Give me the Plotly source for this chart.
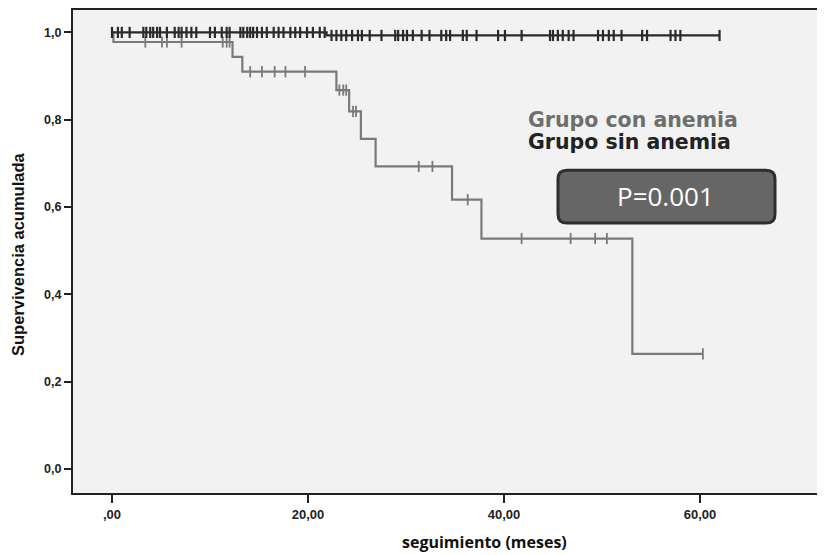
import numpy as np
import plotly.graph_objects as go

# ---------------- data ----------------
con_times = [0.0, 0.15, 12.3, 13.3, 22.9, 24.2, 25.4, 26.9, 34.7, 37.7, 53.1, 60.3]
con_surv = [1.0, 0.978, 0.944, 0.910, 0.868, 0.819, 0.756, 0.693, 0.617, 0.528, 0.264, 0.264]
con_censored = [3.4, 5.1, 5.6, 7.1, 11.3, 11.7, 12.0, 14.1, 15.3, 16.6, 17.7, 19.7,
                 23.2, 23.6, 23.9, 24.6, 24.9, 31.3, 32.7, 36.3, 41.8, 46.8, 49.3, 50.5, 60.3]

sin_times = [0.0, 21.9, 62.0]
sin_surv = [1.0, 0.993, 0.993]
sin_censored = [0.0, 0.6, 1.0, 1.8, 3.2, 3.5, 3.9, 4.2, 4.6, 4.9, 5.6, 6.4, 6.8, 7.1, 7.6,
                8.1, 8.6, 10.0, 10.5, 11.2, 11.7, 12.0, 13.1, 13.4, 13.8, 14.1, 14.4, 14.8,
                15.3, 15.8, 16.5, 17.0, 17.5, 18.2, 18.7, 19.2, 19.9, 20.5, 21.2, 21.7,
                22.4, 22.9, 23.4, 23.9, 24.5, 25.1, 25.5, 26.3, 27.5, 28.9, 29.2, 29.7,
                30.1, 30.7, 31.6, 32.4, 33.6, 34.1, 34.5, 35.8, 36.2, 37.2, 39.4, 40.1,
                41.8, 44.7, 45.0, 45.5, 46.0, 46.6, 47.1, 49.6, 50.1, 50.7, 51.2, 52.0,
                54.1, 54.6, 57.0, 57.5, 58.0, 62.0]

x_tickvals = [0, 20, 40, 60]
x_ticktext = [",00", "20,00", "40,00", "60,00"]
y_tickvals = [0.0, 0.2, 0.4, 0.6, 0.8, 1.0]
y_ticktext = ["0,0", "0,2", "0,4", "0,6", "0,8", "1,0"]

group_labels = ["Grupo con anemia", "Grupo sin anemia"]
p_text = "P=0.001"
x_title = "seguimiento (meses)"
y_title = "Supervivencia acumulada"


def step_value(times, surv, t):
    idx = np.searchsorted(np.array(times), t, side="right") - 1
    idx = np.clip(idx, 0, len(surv) - 1)
    return np.array(surv)[idx]


# ---------------- layout geometry (page pixels; page has an 8px body margin) ----------------
OFF = 8
W, H = 825 - OFF, 555 - OFF
ML, MR, MT, MB = 73 - OFF, 0, 0, 555 - 493
XR = [-3.98, 72.76]
YR = [-24 / 438.5, 1 + (30.5 - OFF) / 438.5]
PW, PH = W - ML - MR, H - MT - MB


def px_to_x(p):
    return XR[0] + (p - OFF - ML) / PW * (XR[1] - XR[0])


def px_to_y(p):
    return YR[1] - (p - OFF - MT) / PH * (YR[1] - YR[0])


def px_to_paper_x(p):
    return (p - OFF - ML) / PW


def px_to_paper_y(p):
    return (MT + PH - (p - OFF)) / PH


con_col = "#7a7a7a"
sin_col = "#2a2a2a"

fig = go.Figure()

fig.add_trace(go.Scatter(x=con_times, y=con_surv, mode="lines", line=dict(color=con_col, width=2.2, shape="hv"),
                         hoverinfo="skip", showlegend=False))
fig.add_trace(go.Scatter(x=con_censored, y=step_value(con_times, con_surv, con_censored), mode="markers",
                         marker=dict(symbol="line-ns-open", size=8, color=con_col,
                                     line=dict(color=con_col, width=1.8)),
                         showlegend=False))
fig.add_trace(go.Scatter(x=sin_times, y=sin_surv, mode="lines", line=dict(color=sin_col, width=2.2, shape="hv"),
                         hoverinfo="skip", showlegend=False))
fig.add_trace(go.Scatter(x=sin_censored, y=step_value(sin_times, sin_surv, sin_censored), mode="markers",
                         marker=dict(symbol="line-ns-open", size=8, color=sin_col,
                                     line=dict(color=sin_col, width=2.2)),
                         showlegend=False))

# rounded P-value box
bx0, bx1, by0, by1, r = 558, 775, 169, 222, 9
X0, X1 = px_to_x(bx0), px_to_x(bx1)
Y0, Y1 = px_to_y(by0), px_to_y(by1)
rx = r / PW * (XR[1] - XR[0])
ry = r / PH * (YR[1] - YR[0])
path = (f"M {X0+rx},{Y0} L {X1-rx},{Y0} Q {X1},{Y0} {X1},{Y0-ry} "
        f"L {X1},{Y1+ry} Q {X1},{Y1} {X1-rx},{Y1} "
        f"L {X0+rx},{Y1} Q {X0},{Y1} {X0},{Y1+ry} "
        f"L {X0},{Y0-ry} Q {X0},{Y0} {X0+rx},{Y0} Z")
fig.add_shape(type="path", path=path, xref="x", yref="y", fillcolor="#666666",
              line=dict(color="#2e2e2e", width=3), layer="above")

fig.add_annotation(x=px_to_x(665), y=px_to_y(195), xref="x", yref="y", text=p_text, showarrow=False,
                   xanchor="center", yanchor="middle",
                   font=dict(family="Open Sans", size=26, color="white"))

fig.add_annotation(x=px_to_x(526), y=px_to_y(118), xref="x", yref="y", text=group_labels[0], showarrow=False,
                   xanchor="left", yanchor="middle",
                   font=dict(family="DejaVu Sans", size=20.5, color="#6e6e6e", weight="bold"))
fig.add_annotation(x=px_to_x(526), y=px_to_y(141), xref="x", yref="y", text=group_labels[1], showarrow=False,
                   xanchor="left", yanchor="middle",
                   font=dict(family="DejaVu Sans", size=20.5, color="#222222", weight="bold"))

# axis titles
fig.add_annotation(x=px_to_paper_x(484), y=px_to_paper_y(542), xref="paper", yref="paper", text=x_title,
                   showarrow=False, xanchor="center", yanchor="middle",
                   font=dict(family="Open Sans", size=16, color="#111111", weight="bold"))
fig.add_annotation(x=px_to_paper_x(18), y=px_to_paper_y(254), xref="paper", yref="paper", text=y_title,
                   showarrow=False, textangle=-90, xanchor="center", yanchor="middle",
                   font=dict(family="Liberation Sans", size=16.5, color="#111111", weight="bold"))

fig.update_layout(
    width=W, height=H,
    margin=dict(l=ML, r=MR, t=MT, b=MB),
    paper_bgcolor="white", plot_bgcolor="#f2f2f2",
    showlegend=False,
    xaxis=dict(range=XR, tickvals=x_tickvals, ticktext=x_ticktext, showgrid=False, zeroline=False,
               showline=True, linecolor="#222222", linewidth=2, mirror=True,
               ticks="outside", ticklen=8, tickwidth=2, tickcolor="#222222",
               tickfont=dict(family="Liberation Sans", size=13, color="#222222", weight="bold")),
    yaxis=dict(range=YR, tickvals=y_tickvals, ticktext=y_ticktext, showgrid=False, zeroline=False,
               showline=True, linecolor="#222222", linewidth=2, mirror=False,
               ticks="outside", ticklen=7, tickwidth=2, tickcolor="#222222",
               tickfont=dict(family="Liberation Sans", size=12.5, color="#222222", weight="bold")),
)

fig.write_html("out.html")
